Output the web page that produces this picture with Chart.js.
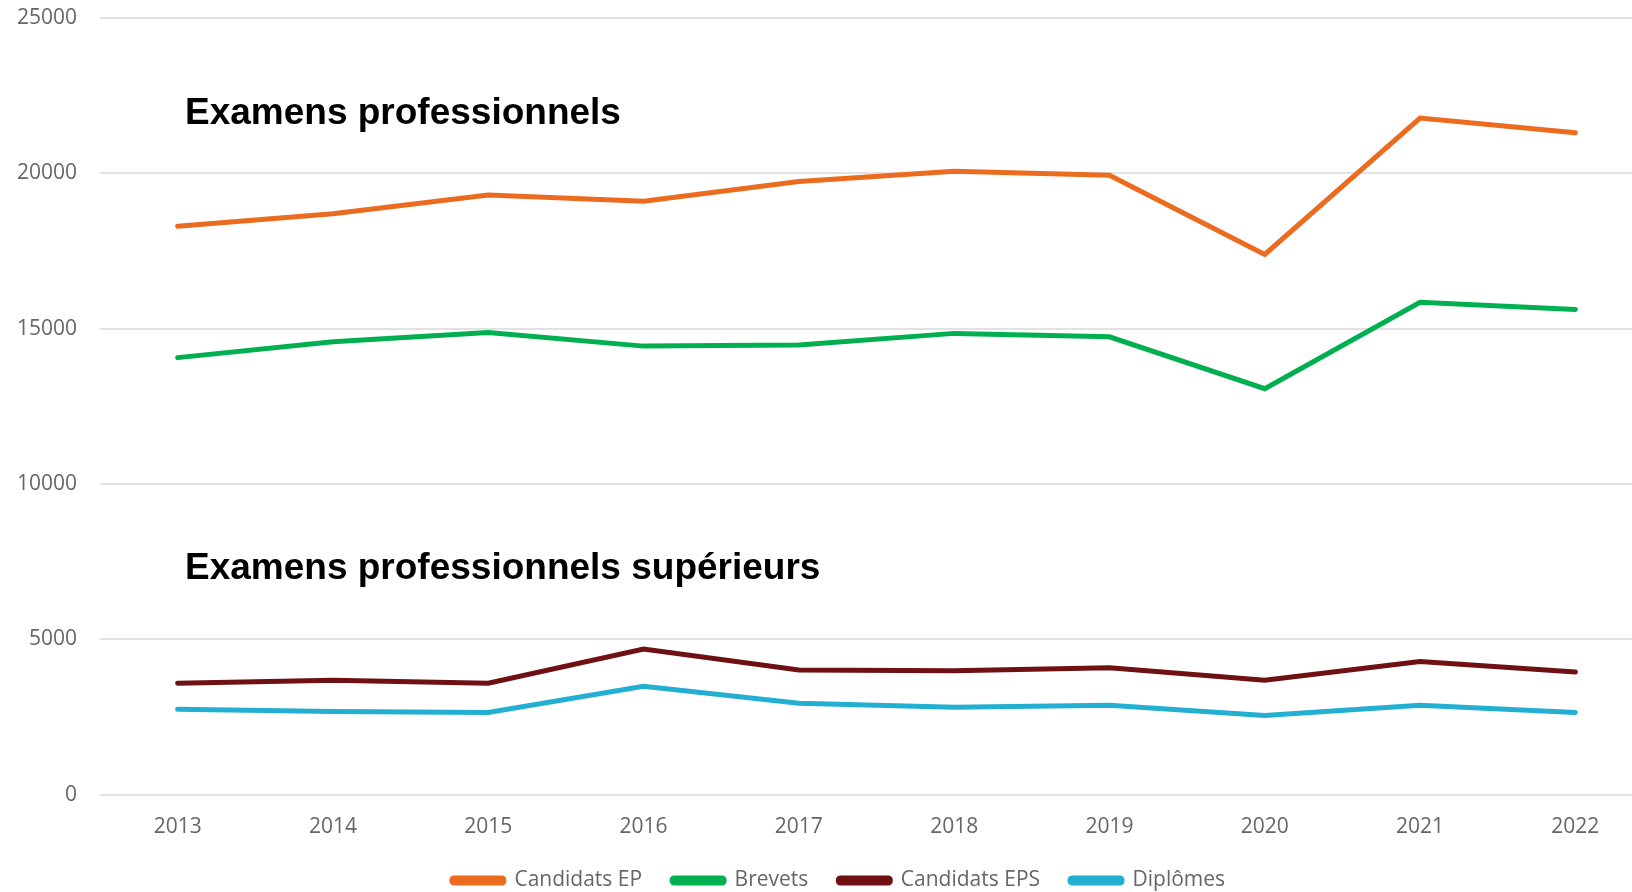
<!DOCTYPE html>
<html lang="fr">
<head>
  <meta charset="UTF-8">
  <title>Examens professionnels</title>
  <script src="https://cdn.jsdelivr.net/npm/chart.js"></script>
  <style>
    html, body {
      margin: 0;
      padding: 0;
      background: #fff;
      overflow: hidden;
    }
    #wrap {
      width: 1655px;
      height: 892px;
    }
  </style>
</head>
<body>
  <div id="wrap">
    <canvas id="chart"></canvas>
  </div>
  <script>
    const years = ['2013', '2014', '2015', '2016', '2017', '2018', '2019', '2020', '2021', '2022'];
    const candidatsEP = [18300, 18700, 19300, 19100, 19740, 20070, 19940, 17390, 21780, 21310];
    const brevets = [14070, 14580, 14880, 14440, 14480, 14850, 14740, 13070, 15850, 15620];
    const candidatsEPS = [3590, 3690, 3590, 4690, 4020, 3990, 4090, 3690, 4290, 3950];
    const diplomes = [2750, 2680, 2650, 3490, 2950, 2815, 2880, 2550, 2880, 2650];
    const yTicks = [0, 5000, 10000, 15000, 20000, 25000];

    // titres dans le graphique
    const titles = [
      { text: 'Examens professionnels', value: 21580 },
      { text: 'Examens professionnels supérieurs', value: 6960 }
    ];

    const titlePlugin = {
      id: 'titles',
      afterLayout(chart) {
        // la légende est centrée un peu à droite dans l'original
        chart.legend.left += 12;
        chart.legend.right += 12;
      },
      afterDatasetsDraw(chart) {
        const ctx = chart.ctx;
        const y = chart.scales.y;
        ctx.save();
        ctx.font = 'bold 37px "Liberation Sans", Arial, sans-serif';
        ctx.fillStyle = '#000';
        ctx.textBaseline = 'alphabetic';
        titles.forEach(t => {
          ctx.fillText(t.text, chart.chartArea.left + 85, y.getPixelForValue(t.value));
        });
        ctx.restore();
      }
    };

    function line(label, data, color) {
      return {
        label: label,
        data: data,
        borderColor: color,
        backgroundColor: color,
        borderWidth: 5,
        pointRadius: 0,
        tension: 0,
        borderCapStyle: 'round',
        borderJoinStyle: 'miter'
      };
    }

    const tickFont = { family: '"Open Sans", sans-serif', size: 21 };

    new Chart(document.getElementById('chart'), {
      type: 'line',
      data: {
        labels: years,
        datasets: [
          line('Candidats EP', candidatsEP, '#EB6B1F'),
          line('Brevets', brevets, '#00B050'),
          line('Candidats EPS', candidatsEPS, '#6F1012'),
          line('Diplômes', diplomes, '#22AFD1')
        ]
      },
      options: {
        responsive: true,
        maintainAspectRatio: false,
        animation: false,
        layout: { padding: { top: 18, right: 2, bottom: -9 } },
        scales: {
          x: {
            offset: true,
            grid: { display: false },
            border: { display: false },
            afterFit: s => { s.height -= 12; },
            ticks: {
              color: '#666',
              padding: 12,
              font: tickFont
            }
          },
          y: {
            min: 0,
            max: 25000,
            afterBuildTicks: s => { s.ticks = yTicks.map(v => ({ value: v })); },
            afterFit: s => { s.width = 100; s.paddingTop = 0; },
            grid: { color: '#e2e2e2', lineWidth: 2, drawTicks: false },
            border: { display: false },
            ticks: {
              color: '#666',
              padding: 23,
              font: tickFont,
              callback: v => String(v)
            }
          }
        },
        plugins: {
          legend: {
            position: 'bottom',
            labels: {
              boxWidth: 52,
              boxHeight: 5,
              useBorderRadius: true,
              borderRadius: 2,
              padding: 30,
              color: '#666',
              font: tickFont
            }
          },
          tooltip: { enabled: false }
        }
      },
      plugins: [titlePlugin]
    });
  </script>
</body>
</html>
